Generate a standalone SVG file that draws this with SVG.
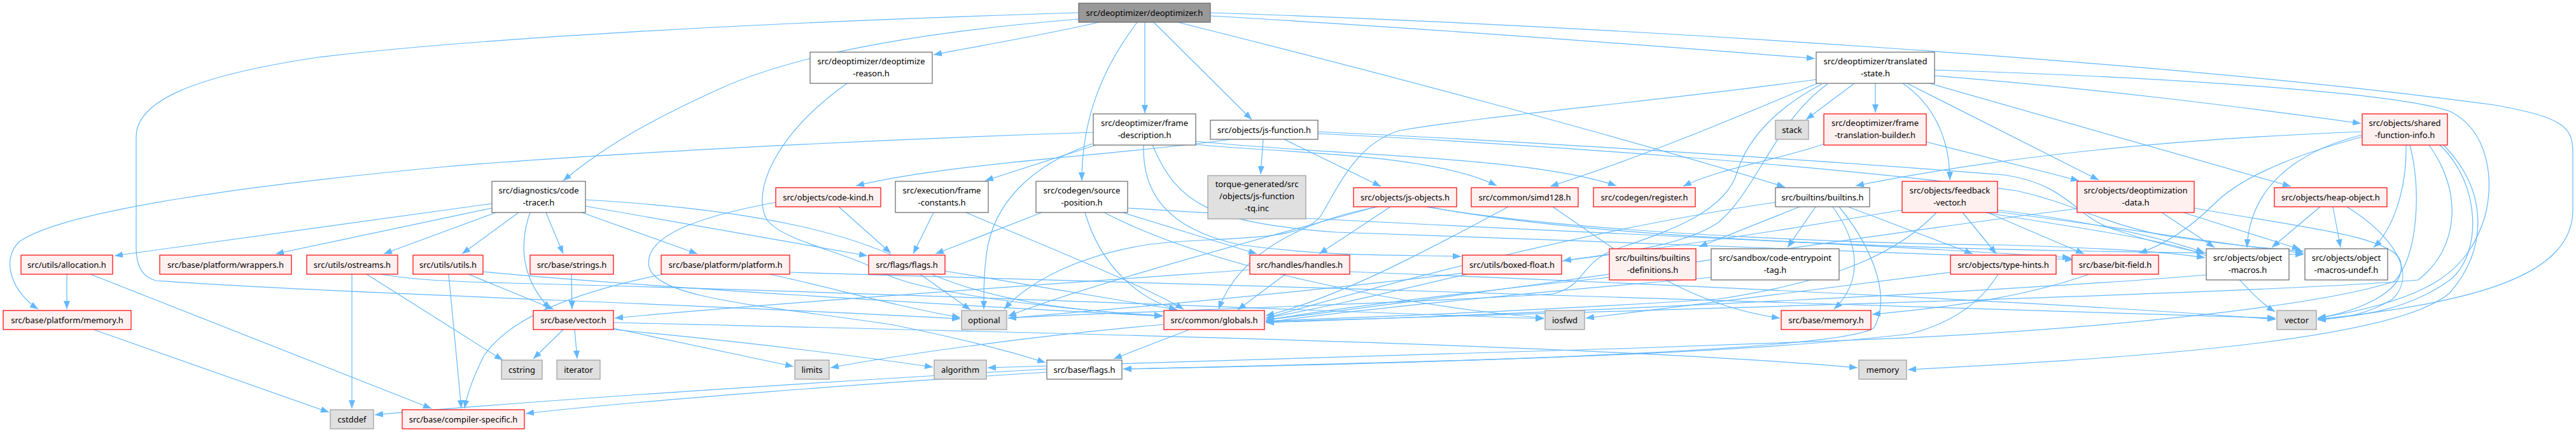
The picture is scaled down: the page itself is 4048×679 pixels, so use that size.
<svg xmlns="http://www.w3.org/2000/svg" width="4048" height="679" viewBox="0 0 4048 679">
<style>
text{font-family:"Noto Sans","Open Sans","DejaVu Sans",sans-serif;font-size:13px;fill:#000;text-anchor:middle}
.m rect{fill:#999;stroke:#666;stroke-width:1.2}
.w rect{fill:#fff;stroke:#666;stroke-width:1.2}
.r rect{fill:#fff0f0;stroke:red;stroke-width:1.2}
.g rect{fill:#e0e0e0;stroke:#999;stroke-width:1.2}
#edges path{fill:none;stroke:#63b8ff;stroke-width:1.2;marker-end:url(#ah)}
</style>
<defs>
<marker id="ah" viewBox="0 0 13 10" refX="13" refY="5" markerWidth="13" markerHeight="10" orient="auto" markerUnits="userSpaceOnUse"><path d="M0,0L13,5L0,10z" fill="#63b8ff" stroke="none"/></marker>
</defs>
<rect width="4048" height="679" fill="#fff"/>
<g id="edges">
<path d="M1727,35 C1640,55 1550,70 1467,86"/>
<path d="M1787,35 C1730,110 1700,190 1700,284"/>
<path d="M1799,35 L1799,178"/>
<path d="M1813,35 L1967,188"/>
<path d="M1851,35 C2150,110 2550,215 2805,294"/>
<path d="M1902,25 C2250,45 2600,72 2852,92"/>
<path d="M1902,20 C2500,40 3400,95 3920,165 C4030,185 4043,200 4043,240 L4043,330 C4043,430 3900,475 3642,502"/>
<path d="M1695,30 C1450,50 1250,85 1130,140 C1020,190 950,230 885,284"/>
<path d="M1695,20 C1200,35 750,60 500,90 C300,120 214,160 214,215 L214,390 C214,420 225,436 245,441 C500,460 1100,478 1509,501"/>
<path d="M1331,131 C1220,210 1180,300 1205,345 C1230,380 1330,395 1390,430 C1450,460 1650,485 1827,497"/>
<path d="M2914,131 L2838,188"/>
<path d="M2947,131 L2947,177"/>
<path d="M2990,131 C3040,165 3064,220 3064,283"/>
<path d="M2997,131 L3298,283"/>
<path d="M3032,131 L3600,293"/>
<path d="M3040,119 C3300,140 3500,165 3710,194"/>
<path d="M3040,110 C3300,118 3750,140 3850,175 C3910,205 3920,280 3905,340 C3880,420 3830,470 3642,500"/>
<path d="M2856,131 C2750,175 2600,240 2436,293"/>
<path d="M2854,125 C2600,160 2350,180 2200,205 C2130,225 2100,300 2075,340 C2040,385 1900,370 1800,385 C1680,405 1610,450 1578,486"/>
<path d="M2863,132 C2790,170 2745,220 2730,270 C2710,340 2600,370 2530,395 C2480,420 2490,450 2440,462 C2200,478 1700,492 1584,500"/>
<path d="M2872,132 C2790,190 2760,300 2700,350 C2640,390 2520,400 2456,410"/>
<path d="M2867,226 C2800,250 2700,265 2645,293"/>
<path d="M3027,223 L3267,284"/>
<path d="M1722,228 L1548,284"/>
<path d="M1718,208 C1300,222 900,245 700,262 C400,290 100,330 30,380 C0,410 20,460 60,486"/>
<path d="M1811,228 C1850,320 1900,350 2100,365 C2500,380 3000,395 3258,408"/>
<path d="M1879,227 C2000,240 2250,240 2352,292"/>
<path d="M1879,222 C2100,245 2400,245 2540,292"/>
<path d="M1797,228 C1795,300 1830,360 1950,385 C2100,405 2200,400 2296,403"/>
<path d="M1716,226 C1620,260 1560,320 1550,400 C1545,440 1546,470 1546,486"/>
<path d="M1985,219 L1981,274"/>
<path d="M1934,219 C1750,245 1500,255 1345,292"/>
<path d="M2018,219 L2170,293"/>
<path d="M2071,207 C2400,222 2900,255 3150,275 C3250,290 3260,340 3320,360 C3380,380 3420,390 3465,398"/>
<path d="M2071,210 C2400,226 2900,262 3170,300 C3260,320 3300,350 3400,370 C3500,385 3560,390 3620,395"/>
<path d="M1318,325 L1400,398"/>
<path d="M1219,318 C1100,340 1010,370 1020,420 C1035,470 1200,480 1400,510 C1500,530 1580,550 1643,570"/>
<path d="M1467,334 L1435,399"/>
<path d="M1518,334 C1650,390 1800,450 1860,486"/>
<path d="M1637,334 L1470,399"/>
<path d="M1705,334 C1730,420 1790,470 1850,487"/>
<path d="M1772,327 C2200,355 2800,375 3254,405"/>
<path d="M1764,334 L1975,399"/>
<path d="M1735,334 C1900,420 2200,480 2426,500"/>
<path d="M2185,325 L2073,399"/>
<path d="M2165,325 C2060,345 1950,390 1915,486"/>
<path d="M2240,325 C2500,370 3000,385 3150,385 C3300,390 3400,395 3465,405"/>
<path d="M2245,325 C2500,375 3000,390 3300,395 C3450,398 3550,398 3620,400"/>
<path d="M2163,325 C2000,370 1700,450 1584,497"/>
<path d="M2370,325 C2250,390 2100,470 1989,496"/>
<path d="M2440,325 C2550,400 2650,480 2797,500"/>
<path d="M2828,325 L2670,388"/>
<path d="M2853,325 L2809,389"/>
<path d="M2904,325 L3100,399"/>
<path d="M2880,325 C2920,380 2930,440 2882,486"/>
<path d="M2790,318 C2500,360 2200,440 1989,500"/>
<path d="M2890,325 C2935,380 2975,460 2945,515 C2900,550 2300,570 1765,580"/>
<path d="M3084,334 L3137,399"/>
<path d="M3123,334 L3275,399"/>
<path d="M3139,330 C3300,350 3400,375 3464,397"/>
<path d="M3139,333 C3350,360 3500,385 3620,398"/>
<path d="M3043,334 C2990,390 2900,440 2700,470 C2400,490 2100,500 1989,505"/>
<path d="M3120,334 C3300,365 3450,380 3500,420 C3530,450 3550,475 3575,490"/>
<path d="M2989,330 C2700,380 2300,440 1584,500"/>
<path d="M3397,334 L3480,389"/>
<path d="M3431,334 L3615,392"/>
<path d="M3448,327 C3600,355 3760,370 3772,410 C3785,460 3700,490 3642,500"/>
<path d="M3264,328 C3000,360 2500,440 1989,503"/>
<path d="M3646,325 L3570,389"/>
<path d="M3666,325 L3678,389"/>
<path d="M3688,325 C3760,370 3800,430 3760,470 C3720,495 3680,500 3642,503"/>
<path d="M3712,207 C3500,215 3200,235 2916,292"/>
<path d="M3712,212 C3600,240 3535,300 3531,389"/>
<path d="M3712,215 C3600,245 3520,280 3480,320 C3440,360 3400,385 3361,398"/>
<path d="M3781,228 C3782,300 3760,360 3730,389"/>
<path d="M3834,228 C3900,290 3900,400 3850,440 C3780,490 3700,498 3642,501"/>
<path d="M3840,228 C3910,300 3910,390 3850,460 C3760,540 3300,565 2998,581"/>
<path d="M3787,228 C3805,300 3800,400 3763,442 C3650,480 3300,520 2900,535 C2400,555 1800,570 1552,578"/>
<path d="M3817,228 C3870,300 3865,390 3800,440 C3600,460 2500,490 1989,506"/>
<path d="M3140,431 C3110,480 3060,510 3000,525 C2700,560 2200,570 1765,580"/>
<path d="M3065,428 C2900,450 2650,480 2492,500"/>
<path d="M3283,431 C3200,460 3100,480 2942,494"/>
<path d="M3467,432 C3200,455 2500,490 1989,507"/>
<path d="M1869,518 L1750,564"/>
<path d="M1829,510 C1600,530 1400,560 1305,578"/>
<path d="M885,518 L838,564"/>
<path d="M903,518 L907,564"/>
<path d="M964,516 L1247,576"/>
<path d="M964,518 C1200,540 1350,560 1466,577"/>
<path d="M964,507 C1500,520 2500,540 2919,578"/>
<path d="M147,518 L517,648"/>
<path d="M105,431 L105,486"/>
<path d="M142,431 L678,642"/>
<path d="M553,431 L553,642"/>
<path d="M576,431 L790,566"/>
<path d="M598,431 C650,440 700,442 800,445 C1400,460 2100,490 2426,501"/>
<path d="M736,431 L870,486"/>
<path d="M705,431 L725,642"/>
<path d="M759,427 C1000,450 1500,480 1827,497"/>
<path d="M815,334 L726,399"/>
<path d="M858,334 L885,399"/>
<path d="M914,334 L1096,399"/>
<path d="M920,324 L1363,402"/>
<path d="M833,334 C810,400 830,450 865,486"/>
<path d="M773,320 L180,402"/>
<path d="M773,327 L433,399"/>
<path d="M779,334 L603,399"/>
<path d="M920,314 C1200,330 1350,370 1440,420 C1550,475 1700,490 1827,496"/>
<path d="M1042,431 C900,460 800,500 760,560 C740,600 733,625 730,642"/>
<path d="M1241,428 C2000,450 3000,480 3576,500"/>
<path d="M1209,431 C1300,450 1400,480 1509,499"/>
<path d="M898,431 L899,486"/>
<path d="M1446,431 L1525,487"/>
<path d="M1485,426 C1600,445 1750,470 1850,487"/>
<path d="M2020,431 L1945,487"/>
<path d="M1964,424 C1600,450 1200,478 966,500"/>
<path d="M2121,427 C2700,450 3300,480 3576,502"/>
<path d="M2305,431 C2200,455 2100,480 1989,500"/>
<path d="M2529,436 C2300,460 2100,485 1989,503"/>
<path d="M2689,436 C2400,460 2100,490 1989,507"/>
<path d="M1645,585 C1400,600 1000,630 826,650"/>
<path d="M1645,580 C1300,600 900,625 589,652"/>
</g>
<g id="n-main" class="m"><rect x="1695" y="5" width="207" height="30"/><text x="1798.5" y="24.5">src/deoptimizer/deoptimizer.h</text></g>
<g id="n-reason" class="w"><rect x="1273" y="82" width="192" height="49"/><text x="1369" y="101">src/deoptimizer/deoptimize</text><text x="1369" y="120">-reason.h</text></g>
<g id="n-ts" class="w"><rect x="2854" y="82" width="186" height="49"/><text x="2947" y="101">src/deoptimizer/translated</text><text x="2947" y="120">-state.h</text></g>
<g id="n-fd" class="w"><rect x="1718" y="179" width="161" height="49"/><text x="1798.5" y="198">src/deoptimizer/frame</text><text x="1798.5" y="217">-description.h</text></g>
<g id="n-jsf" class="w"><rect x="1902" y="189" width="169" height="30"/><text x="1986.5" y="208.5">src/objects/js-function.h</text></g>
<g id="n-stack" class="g"><rect x="2790" y="189" width="52" height="30"/><text x="2816" y="208.5">stack</text></g>
<g id="n-ftb" class="r"><rect x="2866" y="179" width="161" height="49"/><text x="2946.5" y="198">src/deoptimizer/frame</text><text x="2946.5" y="217">-translation-builder.h</text></g>
<g id="n-sfi" class="r"><rect x="3712" y="179" width="134" height="49"/><text x="3779" y="198">src/objects/shared</text><text x="3779" y="217">-function-info.h</text></g>
<g id="n-ct" class="w"><rect x="773" y="285" width="147" height="49"/><text x="846.5" y="304">src/diagnostics/code</text><text x="846.5" y="323">-tracer.h</text></g>
<g id="n-ck" class="r"><rect x="1219" y="295" width="165" height="30"/><text x="1301.5" y="314.5">src/objects/code-kind.h</text></g>
<g id="n-fc" class="w"><rect x="1407" y="285" width="146" height="49"/><text x="1480" y="304">src/execution/frame</text><text x="1480" y="323">-constants.h</text></g>
<g id="n-sp" class="w"><rect x="1628" y="285" width="144" height="49"/><text x="1700" y="304">src/codegen/source</text><text x="1700" y="323">-position.h</text></g>
<g id="n-tq" class="g"><rect x="1898" y="276" width="154" height="68"/><text x="1975" y="294">torque-generated/src</text><text x="1975" y="313">/objects/js-function</text><text x="1975" y="332">-tq.inc</text></g>
<g id="n-jso" class="r"><rect x="2127" y="295" width="162" height="30"/><text x="2208" y="314.5">src/objects/js-objects.h</text></g>
<g id="n-simd" class="r"><rect x="2312" y="295" width="168" height="30"/><text x="2396" y="314.5">src/common/simd128.h</text></g>
<g id="n-reg" class="r"><rect x="2504" y="295" width="160" height="30"/><text x="2584" y="314.5">src/codegen/register.h</text></g>
<g id="n-bi" class="w"><rect x="2790" y="295" width="148" height="30"/><text x="2864" y="314.5">src/builtins/builtins.h</text></g>
<g id="n-fv" class="r"><rect x="2989" y="285" width="150" height="49"/><text x="3064" y="304">src/objects/feedback</text><text x="3064" y="323">-vector.h</text></g>
<g id="n-dd" class="r"><rect x="3264" y="285" width="184" height="49"/><text x="3356" y="304">src/objects/deoptimization</text><text x="3356" y="323">-data.h</text></g>
<g id="n-ho" class="r"><rect x="3574" y="295" width="177" height="30"/><text x="3662.5" y="314.5">src/objects/heap-object.h</text></g>
<g id="n-alloc" class="r"><rect x="33" y="401" width="144" height="30"/><text x="105" y="420.5">src/utils/allocation.h</text></g>
<g id="n-wrap" class="r"><rect x="251" y="401" width="207" height="30"/><text x="354.5" y="420.5">src/base/platform/wrappers.h</text></g>
<g id="n-ost" class="r"><rect x="482" y="401" width="143" height="30"/><text x="553.5" y="420.5">src/utils/ostreams.h</text></g>
<g id="n-utl" class="r"><rect x="649" y="401" width="110" height="30"/><text x="704" y="420.5">src/utils/utils.h</text></g>
<g id="n-str" class="r"><rect x="833" y="401" width="131" height="30"/><text x="898.5" y="420.5">src/base/strings.h</text></g>
<g id="n-plat" class="r"><rect x="1039" y="401" width="202" height="30"/><text x="1140" y="420.5">src/base/platform/platform.h</text></g>
<g id="n-flg" class="r"><rect x="1365" y="401" width="120" height="30"/><text x="1425" y="420.5">src/flags/flags.h</text></g>
<g id="n-hnd" class="r"><rect x="1964" y="401" width="157" height="30"/><text x="2042.5" y="420.5">src/handles/handles.h</text></g>
<g id="n-bf" class="r"><rect x="2298" y="401" width="156" height="30"/><text x="2376" y="420.5">src/utils/boxed-float.h</text></g>
<g id="n-bid" class="r"><rect x="2529" y="391" width="136" height="49"/><text x="2597" y="410">src/builtins/builtins</text><text x="2597" y="429">-definitions.h</text></g>
<g id="n-sbx" class="w"><rect x="2689" y="391" width="201" height="49"/><text x="2789.5" y="410">src/sandbox/code-entrypoint</text><text x="2789.5" y="429">-tag.h</text></g>
<g id="n-th" class="r"><rect x="3065" y="401" width="166" height="30"/><text x="3148" y="420.5">src/objects/type-hints.h</text></g>
<g id="n-bit" class="r"><rect x="3256" y="401" width="136" height="30"/><text x="3324" y="420.5">src/base/bit-field.h</text></g>
<g id="n-om" class="w"><rect x="3467" y="391" width="130" height="49"/><text x="3532" y="410">src/objects/object</text><text x="3532" y="429">-macros.h</text></g>
<g id="n-omu" class="w"><rect x="3622" y="391" width="130" height="49"/><text x="3687" y="410">src/objects/object</text><text x="3687" y="429">-macros-undef.h</text></g>
<g id="n-pmem" class="r"><rect x="5" y="488" width="201" height="30"/><text x="105.5" y="507.5">src/base/platform/memory.h</text></g>
<g id="n-bvec" class="r"><rect x="838" y="488" width="126" height="30"/><text x="901" y="507.5">src/base/vector.h</text></g>
<g id="n-opt" class="g"><rect x="1511" y="488" width="71" height="30"/><text x="1546.5" y="507.5">optional</text></g>
<g id="n-glob" class="r"><rect x="1829" y="488" width="158" height="30"/><text x="1908" y="507.5">src/common/globals.h</text></g>
<g id="n-iosfwd" class="g"><rect x="2428" y="488" width="62" height="30"/><text x="2459" y="507.5">iosfwd</text></g>
<g id="n-bmem" class="r"><rect x="2799" y="488" width="141" height="30"/><text x="2869.5" y="507.5">src/base/memory.h</text></g>
<g id="n-vec" class="g"><rect x="3578" y="488" width="62" height="30"/><text x="3609" y="507.5">vector</text></g>
<g id="n-cstring" class="g"><rect x="788" y="566" width="64" height="30"/><text x="820" y="585.5">cstring</text></g>
<g id="n-iter" class="g"><rect x="875" y="566" width="68" height="30"/><text x="909" y="585.5">iterator</text></g>
<g id="n-limits" class="g"><rect x="1249" y="566" width="54" height="30"/><text x="1276" y="585.5">limits</text></g>
<g id="n-algo" class="g"><rect x="1468" y="566" width="82" height="30"/><text x="1509" y="585.5">algorithm</text></g>
<g id="n-bflags" class="w"><rect x="1645" y="566" width="118" height="30"/><text x="1704" y="585.5">src/base/flags.h</text></g>
<g id="n-memory" class="g"><rect x="2921" y="566" width="75" height="30"/><text x="2958.5" y="585.5">memory</text></g>
<g id="n-cstddef" class="g"><rect x="519" y="644" width="68" height="30"/><text x="553" y="663.5">cstddef</text></g>
<g id="n-cspec" class="r"><rect x="632" y="644" width="192" height="30"/><text x="728" y="663.5">src/base/compiler-specific.h</text></g>
</svg>
